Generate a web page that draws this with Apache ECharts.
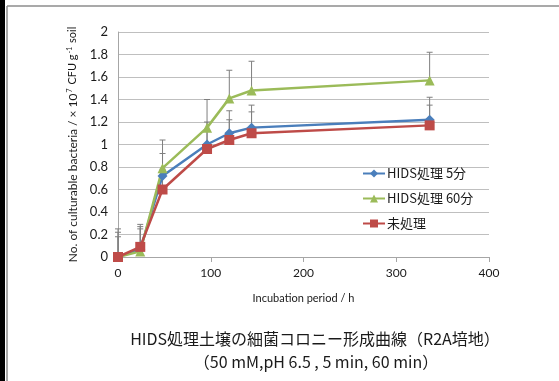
<!DOCTYPE html>
<html lang="ja">
<head>
    <meta charset="UTF-8">
    <title>HIDS処理土壌の細菌コロニー形成曲線</title>
    <script src="https://cdn.jsdelivr.net/npm/echarts@6/dist/echarts.min.js"></script>
    <style>
        html, body { margin: 0; padding: 0; background: #fff; }
        #chart { width: 559px; height: 381px; }
    </style>
</head>
<body>
<div id="chart"></div>
<script type="text/javascript">
    // incubation time (h)
    var hours = [0, 24, 48, 96, 120, 144, 336];

    // colony counts (x 10^7 CFU / g soil)
    var hids5 = [0, 0.07, 0.72, 1.00, 1.10, 1.15, 1.22];
    var hids60 = [0, 0.05, 0.79, 1.15, 1.41, 1.48, 1.57];
    var untreated = [0, 0.09, 0.60, 0.96, 1.04, 1.10, 1.17];

    // upper error bars
    var err5 = [0.22, 0.22, 0.20, 0.20, 0.20, 0.20, 0.20];
    var err60 = [0.25, 0.20, 0.25, 0.25, 0.25, 0.26, 0.25];
    var errUntreated = [0.18, 0.18, 0.18, 0.16, 0.18, 0.19, 0.18];

    var names = ['HIDS処理 5分', 'HIDS処理 60分', '未処理'];
    var xTicks = [0, 100, 200, 300, 400];
    var yTicks = [0, 0.2, 0.4, 0.6, 0.8, 1, 1.2, 1.4, 1.6, 1.8, 2];

    var latin = 'Lato, "Noto Sans CJK JP", sans-serif';
    var cjk = '"Noto Sans CJK JP", sans-serif';

    function pairs(vals) {
        var out = [];
        for (var i = 0; i < hours.length; i++) out.push([hours[i], vals[i]]);
        return out;
    }

    function errData(vals, errs) {
        var out = [];
        for (var i = 0; i < hours.length; i++) out.push([hours[i], vals[i], vals[i] + errs[i]]);
        return out;
    }

    function renderErr(params, api) {
        var lo = api.coord([api.value(0), api.value(1)]);
        var hi = api.coord([api.value(0), api.value(2)]);
        var style = {stroke: '#7f7f7f', lineWidth: 1};
        return {
            type: 'group',
            children: [
                {type: 'line', shape: {x1: lo[0], y1: lo[1], x2: hi[0], y2: hi[1]}, style: style},
                {type: 'line', shape: {x1: hi[0] - 3, y1: hi[1], x2: hi[0] + 3, y2: hi[1]}, style: style}
            ]
        };
    }

    function errSeries(vals, errs) {
        return {
            type: 'custom',
            renderItem: renderErr,
            data: errData(vals, errs),
            z: 1,
            silent: true,
            encode: {x: 0, y: [1, 2]}
        };
    }

    function lineSeries(name, vals, color, symbol, size) {
        return {
            name: name,
            type: 'line',
            data: pairs(vals),
            symbol: symbol,
            symbolSize: size,
            z: 3,
            lineStyle: {color: color, width: 2.5},
            itemStyle: {color: color}
        };
    }

    var myChart = echarts.init(document.getElementById('chart'));

    var option = {
        animation: false,
        backgroundColor: '#fff',
        grid: {left: 118, right: 70, top: 32, bottom: 124},
        title: [{
            text: 'HIDS処理土壌の細菌コロニー形成曲線（R2A培地）',
            left: 310, top: 326, textAlign: 'center',
            textStyle: {fontFamily: cjk, fontSize: 16, fontWeight: 'normal', color: '#1a1a1a'}
        }, {
            text: '（50 mM,pH 6.5 , 5 min, 60 min）',
            left: 311, top: 349, textAlign: 'center',
            textStyle: {fontFamily: cjk, fontSize: 16, fontWeight: 'normal', color: '#1a1a1a'}
        }],
        legend: {
            orient: 'vertical',
            left: 357, top: 162,
            itemWidth: 22, itemHeight: 10, itemGap: 12,
            data: names,
            textStyle: {fontFamily: cjk, fontSize: 13, color: '#1a1a1a', padding: [0, 0, 0, -3]}
        },
        xAxis: {
            type: 'value',
            min: 0, max: 400, interval: 100,
            name: 'Incubation period / h',
            nameLocation: 'middle', nameGap: 36,
            nameTextStyle: {fontFamily: latin, fontSize: 11, color: '#1a1a1a'},
            axisLine: {lineStyle: {color: '#a6a6a6'}},
            axisTick: {show: true, length: 5, lineStyle: {color: '#a6a6a6'}},
            axisLabel: {fontFamily: latin, fontSize: 12, color: '#1a1a1a', margin: 10},
            splitLine: {show: false}
        },
        yAxis: {
            type: 'value',
            min: 0, max: 2, interval: 0.2,
            name: '{a|No. of culturable bacteria / × 10}{s|7}{b| CFU g}{s|-1}{b| soil}',
            nameLocation: 'middle', nameGap: 38,
            nameTextStyle: {
                color: '#1a1a1a',
                rich: {
                    a: {fontFamily: latin, fontSize: 12, color: '#1a1a1a'},
                    b: {fontFamily: latin, fontSize: 11, color: '#1a1a1a'},
                    s: {fontFamily: latin, fontSize: 7, color: '#1a1a1a', verticalAlign: 'top', padding: [0, 1, 6, 1]}
                }
            },
            axisLine: {show: true, lineStyle: {color: '#a6a6a6'}},
            axisTick: {show: false},
            axisLabel: {
                fontFamily: latin, fontSize: 13, color: '#1a1a1a', margin: 10,
                formatter: function (v) { return String(Math.round(v * 10) / 10); }
            },
            splitLine: {lineStyle: {color: '#bfbfbf'}}
        },
        graphic: [
            {type: 'rect', shape: {x: 0, y: 0, width: 5, height: 381}, style: {fill: '#000'}},
            {type: 'line', shape: {x1: 7, y1: 6, x2: 7, y2: 381}, style: {stroke: '#8c8c8c', lineWidth: 1.5}},
            {type: 'line', shape: {x1: 7, y1: 6, x2: 559, y2: 6}, style: {stroke: '#8c8c8c', lineWidth: 1.5}}
        ],
        series: [
            errSeries(hids5, err5),
            errSeries(hids60, err60),
            errSeries(untreated, errUntreated),
            lineSeries(names[0], hids5, '#4a7ebb', 'diamond', 10),
            lineSeries(names[1], hids60, '#9bbb59', 'triangle', 10),
            lineSeries(names[2], untreated, '#be4b48', 'rect', 10)
        ]
    };
    myChart.setOption(option);
</script>
</body>
</html>
